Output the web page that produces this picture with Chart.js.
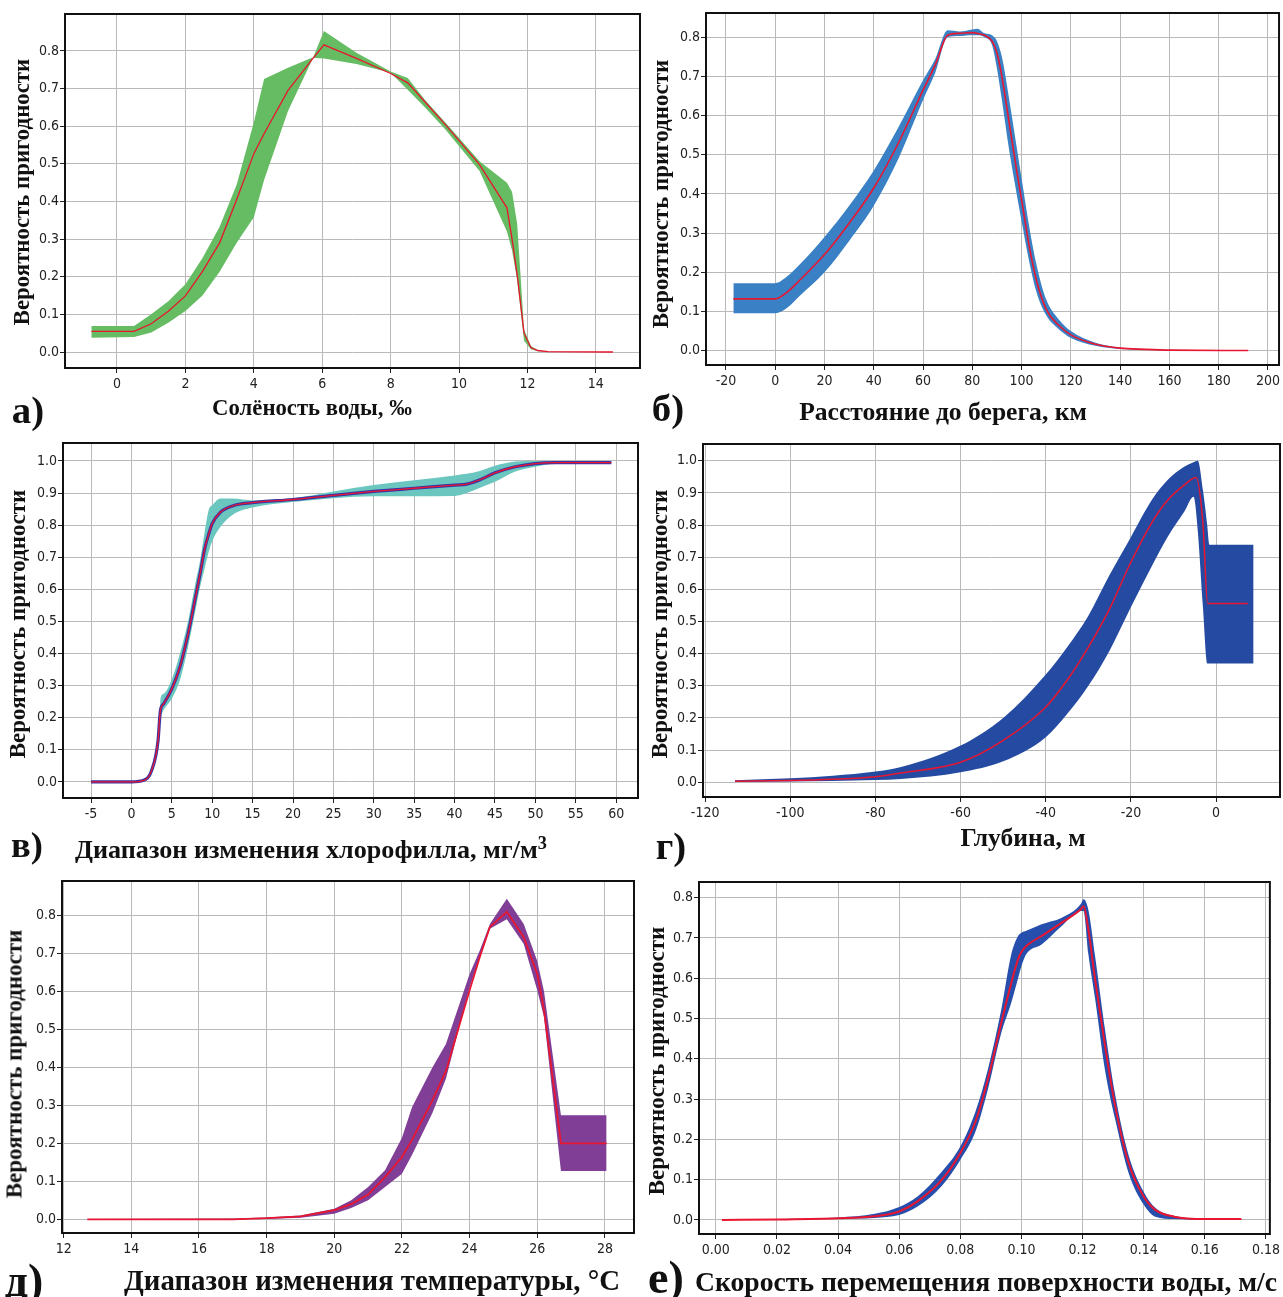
<!DOCTYPE html>
<html>
<head>
<meta charset="utf-8">
<script src="https://cdn.jsdelivr.net/npm/chart.js@4.4.0/dist/chart.umd.min.js"></script>
<style>
  body { margin: 0; background: #fff; width: 1283px; height: 1297px; position: relative; overflow: hidden; }
  canvas { position: absolute; }
  .lbl { position: absolute; font-family: 'Liberation Serif', 'Times New Roman', serif; font-weight: bold;
         white-space: nowrap; color: #111; line-height: 1; }
  .lbl sup { font-size: 0.7em; vertical-align: 0.5em; line-height: 0; }
</style>
</head>
<body>
<canvas id="ca"></canvas>
<canvas id="cb"></canvas>
<canvas id="cc"></canvas>
<canvas id="cd"></canvas>
<canvas id="ce"></canvas>
<canvas id="cf"></canvas>
<script>
// а) salinity
var salX      = [-0.75, 0.5, 1, 1.5, 2, 2.5, 3, 3.5, 4, 4.3, 5, 5.7, 6.05, 7, 8, 8.5, 9, 9.6, 10.6, 11.4, 11.55, 11.7, 11.9, 12.1, 12.3, 12.6, 14.5];
var salMean   = [0.055, 0.055, 0.075, 0.108, 0.149, 0.214, 0.29, 0.405, 0.527, 0.58, 0.695, 0.777, 0.816, 0.78, 0.74, 0.715, 0.665, 0.604, 0.498, 0.383, 0.3, 0.205, 0.05, 0.012, 0.004, 0.001, 0];
var salBandA  = [0.069, 0.069, 0.1, 0.135, 0.18, 0.25, 0.333, 0.445, 0.61, 0.725, 0.755, 0.782, 0.78, 0.765, 0.742, 0.697, 0.65, 0.591, 0.481, 0.32, 0.27, 0.19, 0.03, 0.007, 0.002, 0, 0];
var salBandB  = [0.038, 0.04, 0.052, 0.078, 0.109, 0.15, 0.213, 0.29, 0.358, 0.457, 0.64, 0.775, 0.853, 0.795, 0.745, 0.728, 0.67, 0.61, 0.507, 0.45, 0.425, 0.34, 0.06, 0.016, 0.005, 0.001, 0];

// б) distance to shore
var distX     = [-17, 0, 5, 10, 20, 30, 40, 50, 60, 65, 70, 75, 80, 82, 85, 88, 90, 92, 95, 98, 100, 103, 106, 110, 115, 120, 130, 140, 150, 160, 192];
var distMean  = [0.132, 0.132, 0.15, 0.18, 0.245, 0.325, 0.415, 0.53, 0.665, 0.73, 0.805, 0.81, 0.812, 0.81, 0.805, 0.79, 0.76, 0.7, 0.58, 0.46, 0.385, 0.27, 0.18, 0.105, 0.065, 0.04, 0.016, 0.006, 0.003, 0.001, 0];
var distUpper = [0.172, 0.172, 0.19, 0.22, 0.29, 0.37, 0.46, 0.57, 0.69, 0.745, 0.818, 0.815, 0.82, 0.822, 0.81, 0.805, 0.79, 0.75, 0.64, 0.52, 0.44, 0.32, 0.22, 0.13, 0.08, 0.05, 0.02, 0.008, 0.004, 0.002, 0];
var distLower = [0.095, 0.095, 0.11, 0.14, 0.2, 0.28, 0.37, 0.49, 0.64, 0.71, 0.8, 0.803, 0.805, 0.805, 0.8, 0.78, 0.72, 0.64, 0.51, 0.4, 0.33, 0.23, 0.15, 0.09, 0.055, 0.032, 0.012, 0.004, 0.002, 0, 0];

// в) chlorophyll
var chlX      = [-5, 0, 1.5, 2.5, 3.3, 3.5, 3.6, 4, 5, 6, 7, 8, 8.5, 9.1, 9.6, 10, 11, 12.5, 15, 20, 25, 30, 35, 40, 41.5, 43, 45, 47.5, 50, 52.5, 55, 59.4];
var chlMean   = [0, 0, 0.005, 0.036, 0.13, 0.2, 0.225, 0.244, 0.29, 0.358, 0.46, 0.585, 0.649, 0.73, 0.775, 0.805, 0.84, 0.86, 0.87, 0.88, 0.893, 0.905, 0.915, 0.925, 0.928, 0.94, 0.963, 0.982, 0.992, 0.995, 0.995, 0.995];
var chlUpper  = [0, 0, 0.005, 0.036, 0.13, 0.2, 0.26, 0.275, 0.32, 0.4, 0.5, 0.63, 0.69, 0.784, 0.85, 0.862, 0.883, 0.883, 0.877, 0.884, 0.905, 0.925, 0.94, 0.955, 0.96, 0.968, 0.985, 0.998, 1.0, 1.0, 0.995, 0.995];
var chlLower  = [0, 0, 0.005, 0.036, 0.13, 0.2, 0.205, 0.225, 0.26, 0.317, 0.42, 0.545, 0.607, 0.67, 0.72, 0.75, 0.794, 0.832, 0.855, 0.872, 0.884, 0.89, 0.89, 0.891, 0.9, 0.915, 0.935, 0.967, 0.982, 0.993, 0.995, 0.995];

// г) depth
var depBandX  = [-113, -100, -90, -80, -74, -60, -50, -40, -35, -30, -25, -20, -15, -11.4, -7.5, -5.3, -4.3, -3.1, -2.1, -1.6, 8.8];
var depUpper  = [0.006, 0.012, 0.02, 0.033, 0.047, 0.114, 0.2, 0.335, 0.42, 0.518, 0.645, 0.763, 0.88, 0.94, 0.981, 0.995, 1.0, 0.909, 0.8, 0.739, 0.739];
var depLower  = [0.001, 0.002, 0.004, 0.007, 0.01, 0.031, 0.065, 0.14, 0.212, 0.3, 0.41, 0.545, 0.675, 0.763, 0.841, 0.888, 0.78, 0.545, 0.369, 0.369, 0.369];
var depMeanX  = [-113, -100, -90, -80, -74, -60, -50, -40, -35, -30, -25, -20, -15, -11.4, -7.5, -4.7, -3.1, -2.0, 7.45];
var depMean   = [0.003, 0.005, 0.009, 0.017, 0.029, 0.062, 0.13, 0.234, 0.317, 0.42, 0.54, 0.685, 0.81, 0.877, 0.924, 0.948, 0.805, 0.556, 0.556];

// д) temperature
var tempX     = [12.7, 17, 18, 19, 20, 20.5, 21, 21.5, 22, 22.3, 22.9, 23.3, 24, 24.3, 24.6, 25.1, 25.6, 26, 26.2, 26.7, 28.05];
var tempMean  = [0, 0, 0.003, 0.008, 0.024, 0.04, 0.065, 0.111, 0.164, 0.21, 0.313, 0.39, 0.603, 0.69, 0.77, 0.81, 0.743, 0.646, 0.55, 0.2, 0.2];
var tempUpper = [0.001, 0.002, 0.005, 0.01, 0.028, 0.05, 0.085, 0.129, 0.215, 0.296, 0.4, 0.462, 0.646, 0.708, 0.778, 0.844, 0.778, 0.68, 0.6, 0.274, 0.274];
var tempLower = [0, 0, 0.001, 0.004, 0.015, 0.03, 0.05, 0.085, 0.12, 0.17, 0.28, 0.37, 0.611, 0.69, 0.765, 0.79, 0.725, 0.603, 0.532, 0.127, 0.127];

// е) surface water velocity
var velX      = [0.002, 0.02, 0.04, 0.052, 0.06, 0.066, 0.074, 0.08, 0.085, 0.089, 0.0934, 0.0967, 0.0989, 0.1, 0.1016, 0.1066, 0.1132, 0.1195, 0.1203, 0.1219, 0.1241, 0.1274, 0.1307, 0.1351, 0.14, 0.1438, 0.15, 0.16, 0.172];
var velMean   = [0, 0.001, 0.004, 0.009, 0.021, 0.046, 0.1, 0.166, 0.245, 0.348, 0.489, 0.589, 0.647, 0.665, 0.68, 0.705, 0.738, 0.772, 0.779, 0.721, 0.597, 0.43, 0.282, 0.141, 0.058, 0.025, 0.008, 0.002, 0.002];
var velUpper  = [0, 0.002, 0.006, 0.015, 0.032, 0.058, 0.12, 0.182, 0.27, 0.373, 0.522, 0.66, 0.705, 0.713, 0.718, 0.734, 0.75, 0.785, 0.796, 0.77, 0.655, 0.47, 0.31, 0.16, 0.07, 0.03, 0.01, 0.003, 0.002];
var velLower  = [0, 0, 0.003, 0.005, 0.012, 0.033, 0.085, 0.149, 0.22, 0.323, 0.464, 0.54, 0.6, 0.63, 0.66, 0.684, 0.73, 0.767, 0.767, 0.66, 0.55, 0.37, 0.249, 0.116, 0.038, 0.008, 0.002, 0, 0];

var yTitle = 'Вероятность пригодности';

function pts(xs, ys) {
    return xs.map(function(x, i) { return { x: x, y: ys[i] }; });
}

// black frame round the plot area
var framePlugin = {
    id: 'frame',
    afterDraw: function(chart) {
        var a = chart.chartArea, ctx = chart.ctx;
        ctx.save();
        ctx.strokeStyle = '#111';
        ctx.lineWidth = 2;
        ctx.strokeRect(a.left, a.top, a.right - a.left, a.bottom - a.top);
        ctx.restore();
    }
};

var tickFont = { family: "'Liberation Sans Narrow', 'DejaVu Sans Condensed', 'Liberation Sans', sans-serif", size: 14 };

// area = [left, top, right, bottom] of the plot frame in page pixels
var panels = [
    { id: 'ca', left: 0,   top: 0,   w: 645, h: 395, area: [65, 14, 640, 368],
      x: [-1.52, 15.29, 2, 0], y: [-0.0425, 0.898],
      bx: salX, b1: salBandA, b2: salBandB, mx: salX, my: salMean,
      color: 'rgb(102,188,98)', red: 1.3, tension: 0 },
    { id: 'cb', left: 640, top: 0,   w: 643, h: 395, area: [706, 13, 1281, 365],
      x: [-28.1, 204.5, 20, 0], y: [-0.037, 0.862],
      bx: distX, b1: distUpper, b2: distLower, mx: distX, my: distMean,
      color: 'rgb(58,128,196)', red: 1.6, tension: 1 },
    { id: 'cc', left: 0,   top: 430, w: 645, h: 395, area: [63, 443, 638, 798],
      x: [-8.47, 62.7, 5, 0], y: [-0.05, 1.056],
      bx: chlX, b1: chlUpper, b2: chlLower, mx: chlX, my: chlMean,
      color: 'rgb(106,198,190)', red: 1.3, under: '#3535a8', tension: 1 },
    { id: 'cd', left: 640, top: 430, w: 643, h: 395, area: [703, 444, 1280, 797],
      x: [-120.5, 15, 20, 0], y: [-0.046, 1.052],
      bx: depBandX, b1: depUpper, b2: depLower, mx: depMeanX, my: depMean,
      color: 'rgb(37,74,162)', red: 1.5, tension: 1 },
    { id: 'ce', left: 0,   top: 868, w: 645, h: 395, area: [62, 881, 634, 1233],
      x: [11.95, 28.86, 2, 0], y: [-0.036, 0.891],
      bx: tempX, b1: tempUpper, b2: tempLower, mx: tempX, my: tempMean,
      color: 'rgb(129,62,150)', red: 1.8, tension: 0 },
    { id: 'cf', left: 640, top: 868, w: 643, h: 395, area: [699, 882, 1272, 1234],
      x: [-0.0055, 0.1813, 0.02, 2], y: [-0.035, 0.839],
      bx: velX, b1: velUpper, b2: velLower, mx: velX, my: velMean,
      color: 'rgb(38,78,172)', red: 2, tension: 1 }
];

panels.forEach(function(p) {
    var cv = document.getElementById(p.id);
    cv.width = p.w; cv.height = p.h;
    cv.style.left = p.left + 'px'; cv.style.top = p.top + 'px';
    var yw = p.area[0] - p.left, padTop = p.area[1] - p.top;
    var padRight = p.left + p.w - p.area[2], xh = p.top + p.h - p.area[3];
    var interp = p.tension ? 'monotone' : 'default';

    var datasets = [
        { data: pts(p.bx, p.b1), borderColor: 'transparent', borderWidth: 0, fill: false,
          cubicInterpolationMode: interp, order: 4 },
        { data: pts(p.bx, p.b2), borderColor: 'transparent', borderWidth: 0, fill: '-1',
          backgroundColor: p.color, cubicInterpolationMode: interp, order: 3 }
    ];
    if (p.under) {
        datasets.push({ data: pts(p.mx, p.my), borderColor: p.under, borderWidth: 3.2, fill: false,
                        cubicInterpolationMode: interp, order: 2 });
    }
    datasets.push({ data: pts(p.mx, p.my), borderColor: 'rgb(232,22,48)', borderWidth: p.red, fill: false,
                    cubicInterpolationMode: interp, order: 1 });

    var grid = { color: '#b9b9b9', drawTicks: true, tickLength: 5, tickColor: '#222' };

    new Chart(cv, {
        type: 'line',
        data: { datasets: datasets },
        options: {
            responsive: false,
            animation: false,
            layout: { padding: { top: padTop, right: padRight, left: 0, bottom: 0 } },
            plugins: { legend: { display: false }, tooltip: { enabled: false } },
            elements: { point: { radius: 0 } },
            scales: {
                x: {
                    type: 'linear', min: p.x[0], max: p.x[1],
                    afterFit: function(s) { s.height = xh; },
                    grid: grid,
                    border: { display: false },
                    ticks: { stepSize: p.x[2], includeBounds: false, autoSkip: false, maxRotation: 0,
                             padding: 3, color: '#222', font: tickFont,
                             callback: function(v) { return v.toFixed(p.x[3]); } }
                },
                y: {
                    type: 'linear', min: p.y[0], max: p.y[1],
                    afterFit: function(s) { s.width = yw; },
                    grid: grid,
                    border: { display: false },
                    ticks: { stepSize: 0.1, includeBounds: false, padding: 1, color: '#222', font: tickFont,
                             callback: function(v) { return v.toFixed(1); } }
                }
            }
        },
        plugins: [framePlugin]
    });
});

// text: [html, centre x, centre y, target width, rotated]
var texts = [
    ['а)', 28, 410, 33, false],
    ['Солёность воды, ‰', 312, 408, 200, false],
    [yTitle, 22, 192, 266, true],
    ['б)', 668, 408, 33, false],
    ['Расстояние до берега, км', 943, 412, 288, false],
    [yTitle, 660, 194, 268, true],
    ['в)', 27, 845, 31, false],
    ['Диапазон изменения хлорофилла, мг/м<sup>3</sup>', 311, 850, 472, false],
    [yTitle, 17, 624, 268, true],
    ['г)', 671, 846, 31, false],
    ['Глубина, м', 1023, 838, 125, false],
    [yTitle, 659, 624, 268, true],
    ['д)', 24, 1281, 39, false],
    ['Диапазон изменения температуры, °C', 372, 1280, 496, false],
    [yTitle, 14, 1064, 268, true],
    ['е)', 666, 1278, 37, false],
    ['Скорость перемещения поверхности воды, м/с', 986, 1282, 582, false],
    [yTitle, 656, 1061, 268, true]
];

texts.forEach(function(t) {
    var d = document.createElement('div');
    d.className = 'lbl';
    d.innerHTML = t[0];
    d.style.fontSize = '20px';
    document.body.appendChild(d);
    var size = 20 * t[3] / d.offsetWidth;
    d.style.fontSize = size.toFixed(2) + 'px';
    d.style.left = t[1] + 'px';
    d.style.top = t[2] + 'px';
    d.style.transform = 'translate(-50%, -50%)' + (t[4] ? ' rotate(-90deg)' : '');
});
</script>
</body>
</html>
